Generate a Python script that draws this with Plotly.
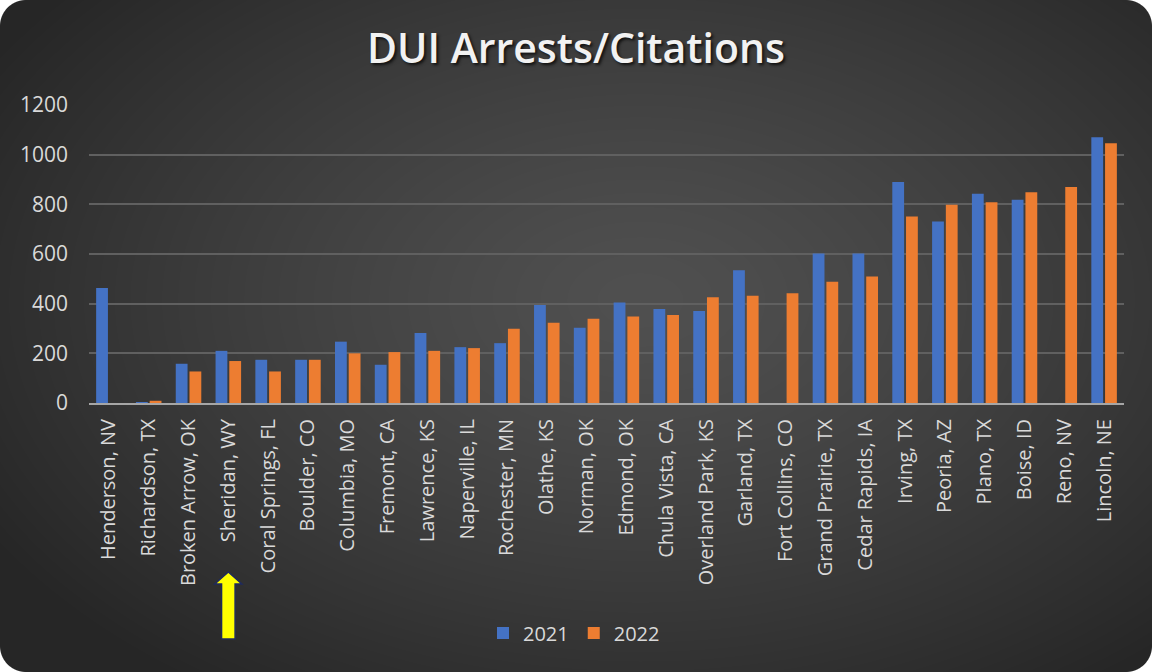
import base64
import struct
import zlib

import numpy as np
import plotly.graph_objects as go

# ---- data -------------------------------------------------------------
cities = [
    "Henderson, NV", "Richardson, TX", "Broken Arrow, OK", "Sheridan, WY",
    "Coral Springs, FL", "Boulder, CO", "Columbia, MO", "Fremont, CA",
    "Lawrence, KS", "Naperville, IL", "Rochester, MN", "Olathe, KS",
    "Norman, OK", "Edmond, OK", "Chula Vista, CA", "Overland Park, KS",
    "Garland, TX", "Fort Collins, CO", "Grand Prairie, TX", "Cedar Rapids, IA",
    "Irving, TX", "Peoria, AZ", "Plano, TX", "Boise, ID", "Reno, NV", "Lincoln, NE",
]
arrests_2021 = [463, 3, 158, 210, 174, 174, 247, 154, 282, 225, 241, 395,
                303, 405, 379, 370, 535, None, 602, 602, 890, 731, 843, 818,
                None, 1070]
arrests_2022 = [None, 9, 127, 169, 127, 174, 200, 205, 210, 221, 299, 323,
                339, 348, 354, 426, 432, 442, 488, 509, 751, 798, 808, 849,
                870, 1046]
series_names = ["2021", "2022"]
y_ticks = [0, 200, 400, 600, 800, 1000, 1200]

# ---- geometry ---------------------------------------------------------
W, H = 1152, 672
ML, MR, MT, MB = 89, 28, 105, 269
PW, PH = W - ML - MR, H - MT - MB


def png_data_uri(rgba):
    """Encode an RGBA uint8 array as a PNG data URI."""
    h, w, _ = rgba.shape
    raw = b"".join(b"\x00" + rgba[i].tobytes() for i in range(h))

    def chunk(tag, data):
        c = struct.pack(">I", len(data)) + tag + data
        return c + struct.pack(">I", zlib.crc32(tag + data) & 0xFFFFFFFF)

    png = b"\x89PNG\r\n\x1a\n"
    png += chunk(b"IHDR", struct.pack(">IIBBBBB", w, h, 8, 6, 0, 0, 0))
    png += chunk(b"IDAT", zlib.compress(raw, 9))
    png += chunk(b"IEND", b"")
    return "data:image/png;base64," + base64.b64encode(png).decode()


# dark radial-gradient card with rounded corners
yy, xx = np.mgrid[0:H, 0:W].astype(float)
t = np.sqrt(((xx - 640) / 760) ** 2 + ((yy - 300) / 480) ** 2)
t = np.clip(t, 0, 1)
shade = 80 - 42 * t ** 1.3
img = np.zeros((H, W, 4), dtype=np.uint8)
img[..., 0] = shade
img[..., 1] = shade
img[..., 2] = shade
R = 26.0
cx = np.clip(xx + 0.5, R, W - R)
cy = np.clip(yy + 0.5, R, H - R)
d = np.sqrt((xx + 0.5 - cx) ** 2 + (yy + 0.5 - cy) ** 2)
alpha = np.clip(R + 0.5 - d, 0, 1)
img[..., 3] = (alpha * 255).astype(np.uint8)
bg_uri = png_data_uri(img)

# ---- figure -----------------------------------------------------------
fig = go.Figure()
fig.add_trace(go.Bar(x=cities, y=arrests_2021, name=series_names[0],
                     marker=dict(color="#4472C4", line=dict(width=0))))
fig.add_trace(go.Bar(x=cities, y=arrests_2022, name=series_names[1],
                     marker=dict(color="#ED7D31", line=dict(width=0))))

# yellow marker arrow under Sheridan, WY
ax = cities.index("Sheridan, WY")
def py(pix):
    return (H - MB - pix) / PH
hw, sw = 0.34, 0.17
arrow_path = (
    f"M {ax} {py(572)} L {ax + hw} {py(584)} L {ax + sw} {py(584)} "
    f"L {ax + sw} {py(639)} L {ax - sw} {py(639)} L {ax - sw} {py(584)} "
    f"L {ax - hw} {py(584)} Z"
)
fig.add_shape(type="path", path=arrow_path, xref="x", yref="paper",
              fillcolor="#FFFF00", line=dict(color="#1F2A5C", width=1.5))

fig.update_layout(
    width=W, height=H,
    margin=dict(l=ML, r=MR, t=MT, b=MB, pad=0),
    paper_bgcolor="white",
    plot_bgcolor="rgba(0,0,0,0)",
    images=[dict(source=bg_uri, xref="paper", yref="paper",
                 x=-ML / PW, y=1 + MT / PH, sizex=W / PW, sizey=H / PH,
                 xanchor="left", yanchor="top", sizing="stretch",
                 layer="below")],
    title=dict(text="DUI Arrests/Citations", x=0.5, xanchor="center",
               xref="container", y=1 - 49 / H, yanchor="middle",
               font=dict(family="Open Sans", size=41, color="#F2F2F2",
                         weight=600, shadow="2px 2px 3px #111")),
    barmode="group", bargap=0.31, bargroupgap=0.14,
    font=dict(family="Open Sans", color="#D9D9D9"),
    showlegend=True,
    legend=dict(orientation="h", x=(574 - ML) / PW, xanchor="center",
                y=py(633), yanchor="middle", font=dict(size=20, color="#D9D9D9"),
                bgcolor="rgba(0,0,0,0)", itemwidth=30, traceorder="normal"),
    xaxis=dict(type="category", tickangle=-90, showgrid=False,
               showline=True, linecolor="#A6A6A6", linewidth=2,
               ticks="", ticklabelstandoff=6,
               tickfont=dict(family="Open Sans", size=20, color="#D9D9D9"),
               fixedrange=True),
    yaxis=dict(range=[0, 1200], tickvals=y_ticks, showgrid=True,
               gridcolor="#606060", gridwidth=1.5, zeroline=False,
               ticks="", ticklabelstandoff=20,
               tickfont=dict(family="Open Sans", size=21, color="#D9D9D9"),
               fixedrange=True),
)

fig.write_html("out.html")
